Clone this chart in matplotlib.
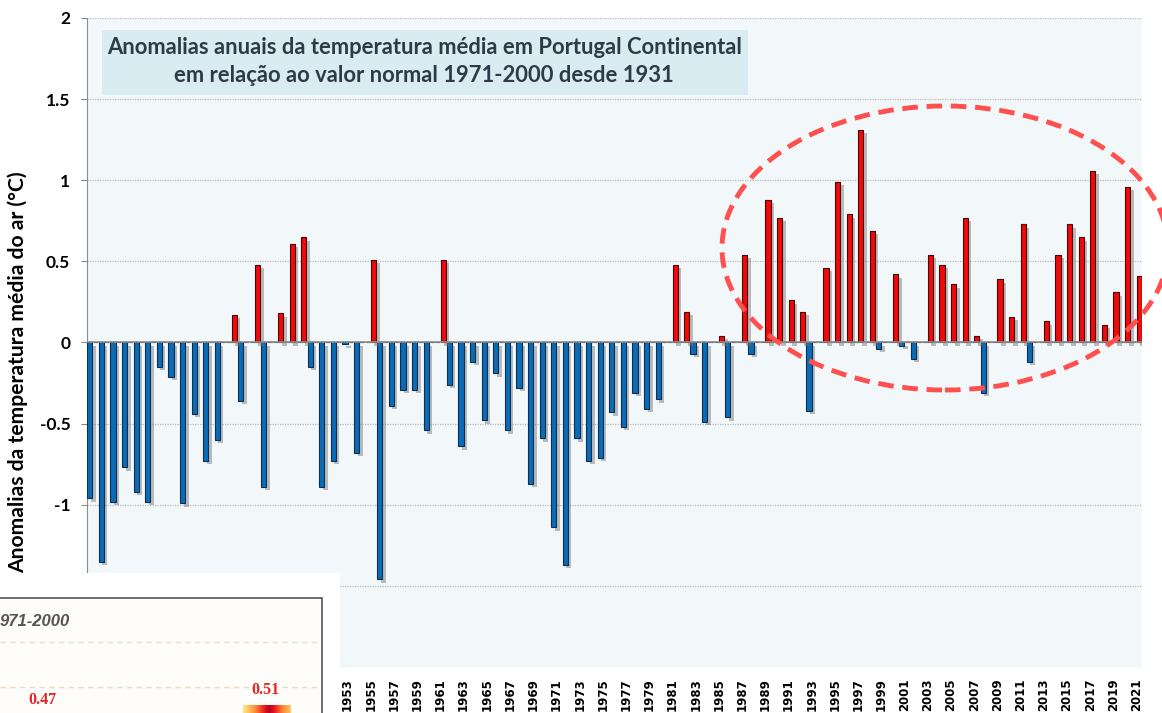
import numpy as np
import matplotlib
matplotlib.use('Agg')
import matplotlib.pyplot as plt
from matplotlib.patches import Rectangle, Ellipse
import matplotlib.patheffects as pe

# Dados: anomalias anuais da temperatura média (°C) face a 1971-2000
anos = list(range(1931, 2022))
anomalias = [
    -0.96, -1.35, -0.98, -0.77, -0.92, -0.98, -0.15, -0.21, -0.99, -0.44,   # 1931-1940
    -0.73, -0.60, 0.17, -0.36, 0.48, -0.89, 0.18, 0.61, 0.65, -0.15,        # 1941-1950
    -0.89, -0.73, -0.01, -0.68, 0.51, -1.46, -0.39, -0.29, -0.29, -0.54,    # 1951-1960
    0.51, -0.26, -0.64, -0.12, -0.48, -0.19, -0.54, -0.28, -0.87, -0.59,    # 1961-1970
    -1.14, -1.37, -0.59, -0.73, -0.71, -0.43, -0.52, -0.31, -0.41, -0.35,   # 1971-1980
    0.48, 0.19, -0.07, -0.49, 0.04, -0.46, 0.54, -0.07, 0.88, 0.77,         # 1981-1990
    0.26, 0.19, -0.42, 0.46, 0.99, 0.79, 1.31, 0.69, -0.04, 0.42,           # 1991-2000
    -0.02, -0.10, 0.54, 0.48, 0.36, 0.77, 0.04, -0.31, 0.39, 0.16,          # 2001-2010
    0.73, -0.12, 0.13, 0.54, 0.73, 0.65, 1.06, 0.11, 0.31, 0.96,            # 2011-2020
    0.41,                                                                   # 2021
]
ticks_y = [-2, -1.5, -1, -0.5, 0, 0.5, 1, 1.5, 2]
ticks_x = list(range(1931, 2022, 2))
titulo = ['Anomalias anuais da temperatura média em Portugal Continental',
          'em relação ao valor normal 1971-2000 desde 1931']
rotulo_y = 'Anomalias da temperatura média do ar (°C)'

# Recorte do gráfico colado no canto inferior esquerdo
inset_titulo = '971-2000'
inset_valores = [0.47, 0.51]

W, H = 1162, 713
fig = plt.figure(figsize=(W / 100, H / 100), dpi=100)
fig.patch.set_facecolor('white')


def fx(px):
    return px / W


def fy(py):
    return 1 - py / H


ax = fig.add_axes([fx(87), fy(667), fx(1142) - fx(87), fy(18) - fy(667)])
ax.set_facecolor('#f2f7fa')

anos_arr = np.array(anos)
vals = np.array(anomalias)
pos = np.where(vals > 0, vals, 0)
neg = np.where(vals < 0, vals, 0)

sombra = [pe.SimplePatchShadow(offset=(2.5, -2.5), shadow_rgbFace='0.45', alpha=0.45), pe.Normal()]
largura = 0.44
ax.bar(anos_arr - 0.23, neg, width=largura, color='#0c6bb5', edgecolor='#0b2f52',
       linewidth=0.8, zorder=3, path_effects=sombra)
ax.bar(anos_arr + 0.23, pos, width=largura, color='#f00a0a', edgecolor='#4a0505',
       linewidth=0.8, zorder=3, path_effects=sombra)

ax.set_xlim(1930.53, 2021.47)
ax.set_ylim(-2, 2)
ax.set_yticks(ticks_y)
ax.set_yticklabels([f'{t:g}' for t in ticks_y], fontsize=12.5, fontweight='bold', family='Lato')
ax.set_xticks(ticks_x)
ax.set_xticklabels([str(a) for a in ticks_x], rotation=90, fontsize=8.5, fontweight='bold',
                   family='DejaVu Sans', va='top')
ax.tick_params(axis='x', length=0, pad=8)
ax.tick_params(axis='y', length=4, color='#888888', pad=8)

# grelha pontilhada
for t in ticks_y:
    if t != 0:
        ax.axhline(t, color='#bbbbbb', lw=0.9, ls=(0, (1, 1)), zorder=1)
ax.axhline(0, color='#8c8c8c', lw=1.2, zorder=4)

for s in ['top', 'right', 'bottom']:
    ax.spines[s].set_visible(False)
ax.spines['left'].set_color('#8c8c8c')

ax.set_ylabel(rotulo_y, fontsize=15.2, fontweight='bold', family='Lato')
ax.yaxis.set_label_coords(-(87 - 28) / (1142 - 87), (667 - 372) / 649)

# caixa do título
fig.patches.append(Rectangle((fx(102), fy(95)), fx(748) - fx(102), fy(30) - fy(95),
                             transform=fig.transFigure, facecolor='#d8ecf2', edgecolor='none',
                             zorder=5))
fig.text(fx(425), fy(47), titulo[0], ha='center', va='center', fontsize=15.8,
         fontweight='bold', family='Lato', color='#2e3a48', zorder=6)
fig.text(fx(424), fy(76), titulo[1], ha='center', va='center', fontsize=15.8,
         fontweight='bold', family='Lato', color='#2e3a48', zorder=6)

# elipse tracejada
fig.patches.append(Ellipse((fx(945), fy(248)), fx(446), 284 / H, transform=fig.transFigure,
                           fill=False, edgecolor='#ff4f4f', lw=3.5, ls=(0, (3.2, 1.8)),
                           zorder=7))

# recorte do outro gráfico (canto inferior esquerdo)
axi = fig.add_axes([0, 0, fx(340), fy(573)], zorder=10)
axi.set_facecolor('white')
axi.axis('off')
axi.add_patch(Rectangle((0, 573), 340, 140, facecolor='white', edgecolor='none', zorder=0))
axi.add_patch(Rectangle((-5, 598), 327, 130, facecolor='#fffdfa', edgecolor='#555555',
                        lw=1.2, zorder=1))
for yy in [642, 687]:
    axi.plot([0, 320], [yy, yy], color='#efdcc8', lw=1, ls=(0, (4, 3)), zorder=2)
axi.text(0, 621, inset_titulo, ha='left', va='center', fontsize=12, fontstyle='italic',
         fontweight='bold', family='Liberation Sans', color='#555555', zorder=3)
axi.text(42, 700, f'{inset_valores[0]:.2f}', ha='center', va='center', fontsize=11.5,
         fontweight='bold', family='Liberation Serif', color='#e02828', zorder=3)
axi.text(266, 690, f'{inset_valores[1]:.2f}', ha='center', va='center', fontsize=11.5,
         fontweight='bold', family='Liberation Serif', color='#e02828', zorder=3)
grad = np.abs(np.linspace(0, 1, 50) - 0.55)
axi.imshow(grad[None, :], cmap='YlOrRd_r', extent=(243, 291, 713, 705), aspect='auto',
           vmin=-0.1, vmax=0.7, zorder=3)
axi.set_xlim(0, 340)
axi.set_ylim(713, 573)

fig.savefig('out.png', dpi=100)
